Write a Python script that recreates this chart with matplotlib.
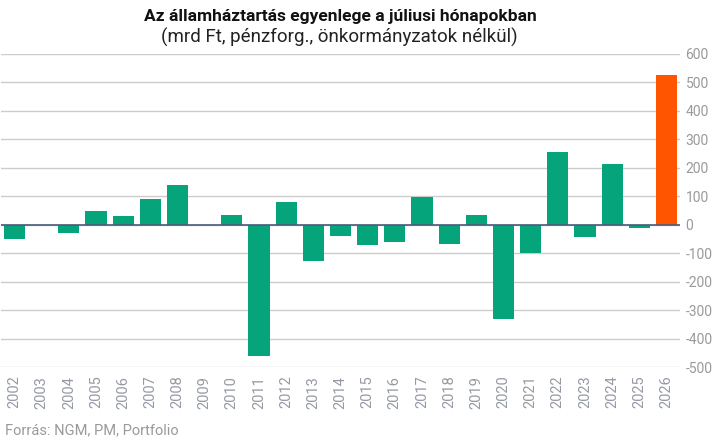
import numpy as np
import matplotlib
matplotlib.use('Agg')
import matplotlib.pyplot as plt

plt.rcParams['font.family'] = ['Roboto', 'DejaVu Sans']

# julius egyenleg, mrd Ft (leolvasva)
years = [str(y) for y in range(2002, 2027)]
values = [-52, 0, -30, 49, 32, 91, 140, 0, 35, -459, 81, -129, -38,
          -73, -62, 96, -69, 35, -329, -101, 256, -44, 211, -13, 523]
yticks = list(range(-500, 601, 100))

green = '#05a47b'
orange = '#ff5400'
colors = [green] * (len(values) - 1) + [orange]

fig = plt.figure(figsize=(7.24, 4.46), dpi=100)
ax = fig.add_axes([1 / 724, 1 - 367.3 / 446, 679 / 724, (367.3 - 53.5) / 446])

x = np.arange(len(years))
ax.bar(x, values, width=0.78, color=colors, zorder=3)

ax.set_xlim(-0.5, len(years) - 0.5)
ax.set_ylim(-500, 600)
ax.set_yticks(yticks)
ax.set_yticklabels([str(t) for t in yticks])
ax.yaxis.tick_right()
ax.tick_params(axis='y', length=0, pad=4, labelsize=10, labelcolor='#9a9a9a')
ax.set_xticks(x)
ax.set_xticklabels(years, rotation=90)
ax.tick_params(axis='x', length=0, pad=6, labelsize=10.5, labelcolor='#959aa3')

ax.grid(axis='y', color='#cccccc', linewidth=1.0, zorder=0)
ax.axhline(0, color='#4a5b7c', linewidth=1.2, zorder=4)
for s in ax.spines.values():
    s.set_visible(False)

fig.text(340 / 724, 1 - 16 / 446, 'Az államháztartás egyenlege a júliusi hónapokban',
         ha='center', va='center', fontsize=12.5, fontweight='bold', color='#111111')
fig.text(339 / 724, 1 - 37 / 446, '(mrd Ft, pénzforg., önkormányzatok nélkül)',
         ha='center', va='center', fontsize=13.5, color='#222222')
fig.text(5 / 724, 1 - 430 / 446, 'Forrás: NGM, PM, Portfolio',
         ha='left', va='center', fontsize=10.5, color='#9a9a9a')

fig.savefig('out.png', dpi=100)
